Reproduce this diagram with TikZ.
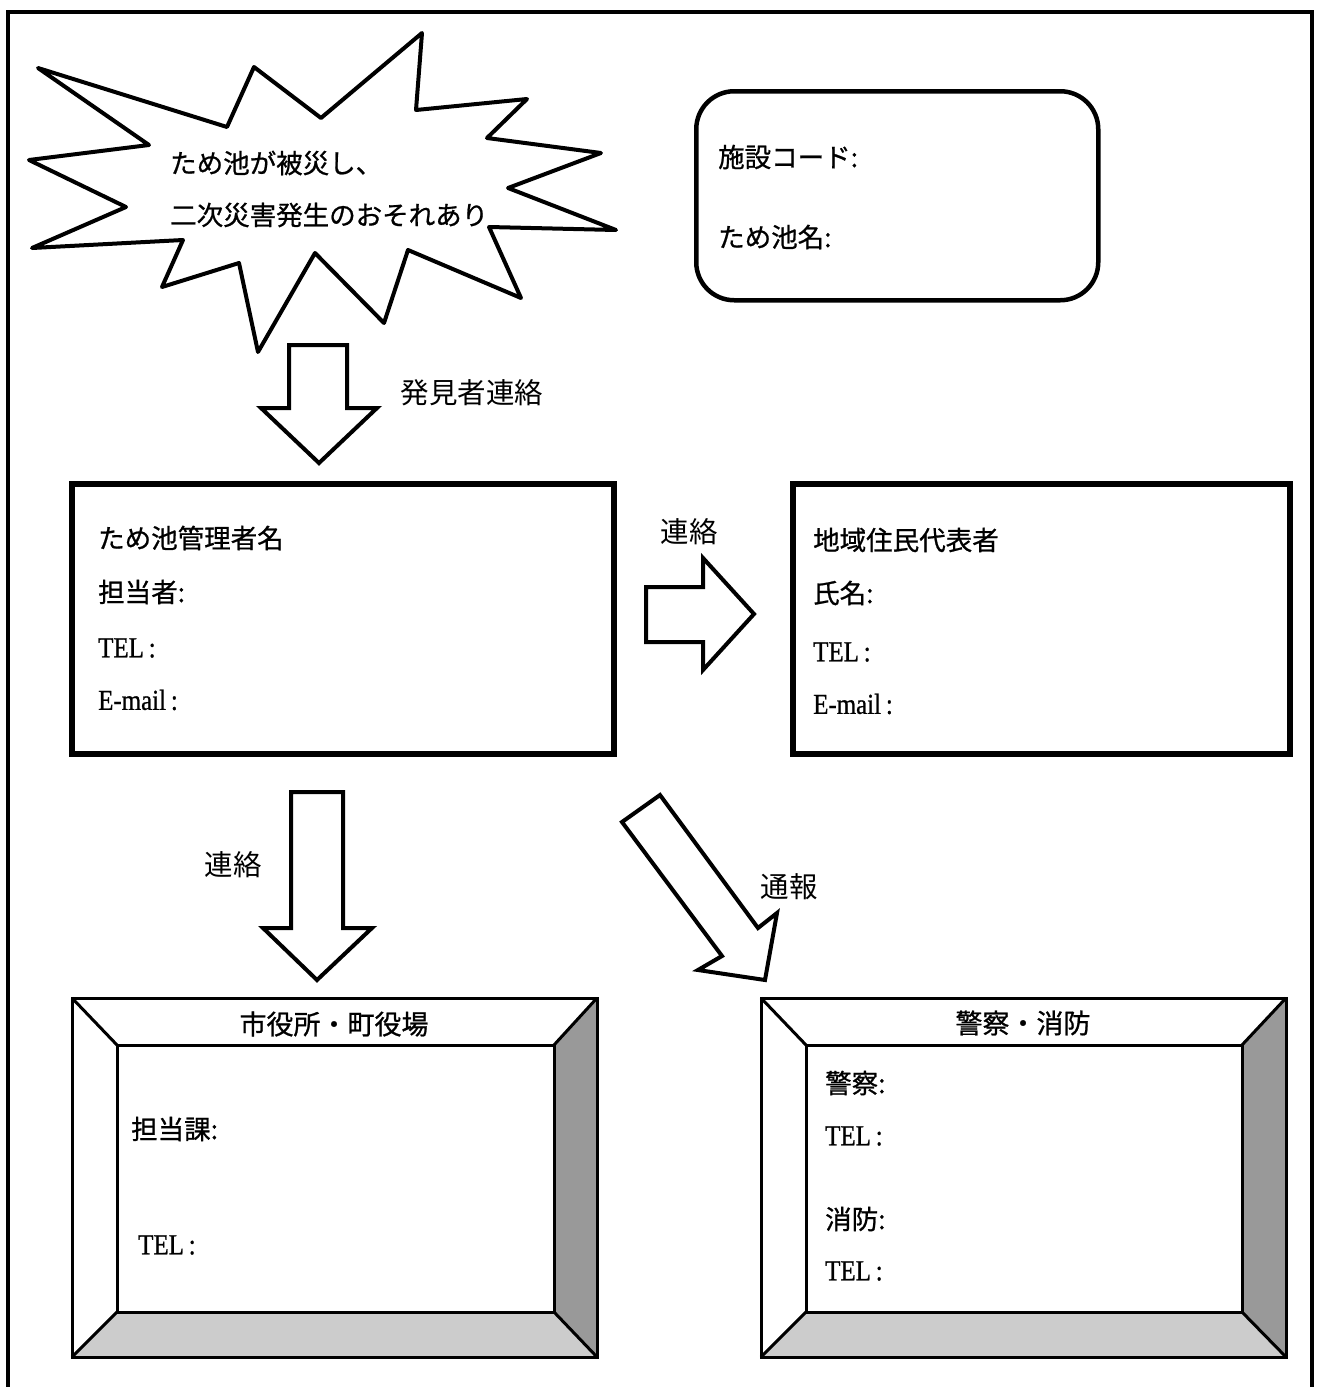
\documentclass[tikz,border=0pt]{standalone}
\usepackage{fontspec}
\setmainfont{Liberation Serif}
\newfontfamily\jp{Noto Sans CJK JP}
\newfontfamily\jpb{Noto Sans CJK JP}[FakeBold=0.8]
\newfontfamily\latb{Liberation Serif}[FakeStretch=0.86,FakeBold=0.8]
\definecolor{bevdark}{HTML}{999999}
\definecolor{bevlight}{HTML}{CCCCCC}
\begin{document}
\begin{tikzpicture}[x=1pt,y=-1pt,
  txt/.style={anchor=west, inner sep=0pt, font=\fontsize{26.5}{30}\selectfont\jpb},
  lat/.style={anchor=west, inner sep=0pt, font=\fontsize{29}{32}\selectfont\latb},
  lbl/.style={inner sep=0pt, font=\fontsize{28.5}{32}\selectfont\jp},
  ttl/.style={inner sep=0pt, font=\fontsize{27}{32}\selectfont\jpb},
  blockarrow/.style={draw, line width=4pt, fill=white, line join=miter},
  infobox/.style={draw, line width=6pt, anchor=north west, inner sep=0pt, minimum width=542pt, minimum height=270pt},
  bev/.style={line width=3pt, line join=miter}]
\useasboundingbox (0,0) rectangle (1321,1387);
\fill[white] (0,0) rectangle (1321,1387);
% outer frame
\draw[line width=4pt, line join=miter] (8,1390) -- (8,12) -- (1312,12) -- (1312,1390);

% starburst
\draw[line width=4pt, line join=round, fill=white]
 (38,68) -- (227,127) -- (254,67) -- (321,118) -- (422,33) -- (416,110) -- (527,99)
 -- (487,138) -- (601,153) -- (508,188) -- (616,230) -- (489,227) -- (521,298)
 -- (408,250) -- (384,323) -- (315,253) -- (258,352) -- (239,263) -- (162,287)
 -- (183,240) -- (32,248) -- (126,207) -- (29,160) -- (149,145) -- cycle;
\node[txt] (burst1) at (170,163) {ため池が被災し、};
\node[txt] (burst2) at (170,215) {二次災害発生のおそれあり};

% info rounded box
\node[draw, line width=4.5pt, rounded corners=38pt, anchor=north west, inner sep=0pt,
      minimum width=402pt, minimum height=209pt] (info) at (694,89) {};
\node[txt] (code) at (718,157) {施設コード:};
\node[txt] (pond) at (718,237) {ため池名:};

% arrow 1
\draw[blockarrow] (289,345) -- (347,345) -- (347,408) -- (377,408) -- (319,463)
  -- (261,408) -- (289,408) -- cycle;
\node[lbl] (l1) at (472,393) {発見者連絡};

% manager box
\node[infobox] (mgr) at (69,481) {};
\node[txt] (m1) at (98,538) {ため池管理者名};
\node[txt] (m2) at (98,592) {担当者:};
\node[lat] (m3) at (98,648) {TEL\,:};
\node[lat] (m4) at (98,700) {E-mail\,:};

% resident box
\node[infobox, minimum width=497pt] (res) at (790,481) {};
\node[txt] (r1) at (813,540) {地域住民代表者};
\node[txt] (r2) at (813,593) {氏名:};
\node[lat] (r3) at (813,652) {TEL\,:};
\node[lat] (r4) at (813,704) {E-mail\,:};

% right arrow
\draw[blockarrow] (646,587) -- (703,587) -- (703,558) -- (754,614) -- (703,670)
  -- (703,642) -- (646,642) -- cycle;
\node[lbl] (l2) at (689,532) {連絡};

% down arrow 2
\draw[blockarrow] (291,792) -- (343,792) -- (343,928) -- (372,928) -- (317,980)
  -- (263,928) -- (291,928) -- cycle;
\node[lbl] (l3) at (233,865) {連絡};

% diagonal arrow
\draw[blockarrow] (622,822) -- (660,795) -- (758,928) -- (777,913) -- (765,980)
  -- (698,970) -- (722,956) -- cycle;
\node[lbl] (l4) at (789,887) {通報};

% left bevel box
\fill[bevdark] (597,998) -- (597,1357) -- (554,1312) -- (554,1045) -- cycle;
\fill[bevlight] (72,1357) -- (597,1357) -- (554,1312) -- (117,1312) -- cycle;
\draw[bev] (72,998) rectangle (597,1357);
\draw[bev] (117,1045) rectangle (554,1312);
\draw[bev] (72,998) -- (117,1045) (597,998) -- (554,1045)
           (72,1357) -- (117,1312) (597,1357) -- (554,1312);
\node[ttl] (city) at (334,1024) {市役所・町役場};
\node[txt] (c1) at (131,1129) {担当課:};
\node[lat] (c2) at (138,1245) {TEL\,:};

% right bevel box
\fill[bevdark] (1286,998) -- (1286,1357) -- (1242,1312) -- (1242,1045) -- cycle;
\fill[bevlight] (761,1357) -- (1286,1357) -- (1242,1312) -- (806,1312) -- cycle;
\draw[bev] (761,998) rectangle (1286,1357);
\draw[bev] (806,1045) rectangle (1242,1312);
\draw[bev] (761,998) -- (806,1045) (1286,998) -- (1242,1045)
           (761,1357) -- (806,1312) (1286,1357) -- (1242,1312);
\node[ttl] (police) at (1023,1023) {警察・消防};
\node[txt] (p1) at (825,1083) {警察:};
\node[lat] (p2) at (825,1136) {TEL\,:};
\node[txt] (p3) at (825,1219) {消防:};
\node[lat] (p4) at (825,1271) {TEL\,:};
\end{tikzpicture}
\end{document}
